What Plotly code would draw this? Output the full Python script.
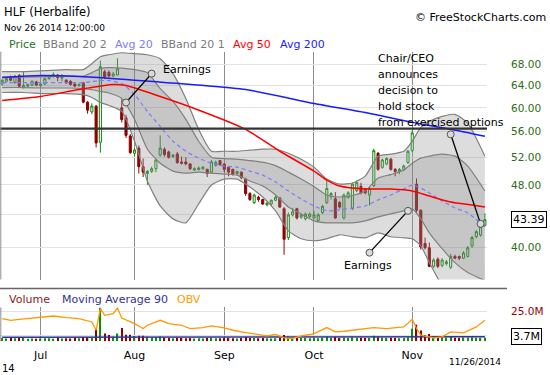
import numpy as np
import pandas as pd
import plotly.graph_objects as go

# ---------------- data ----------------
HOLIDAYS = ("2014-07-04", "2014-09-01")
dates = [d.strftime("%Y-%m-%d") for d in pd.bdate_range("2014-06-18", "2014-11-26")
         if d.strftime("%Y-%m-%d") not in HOLIDAYS]

opens = [64.3, 64.8, 65.6, 64.6, 65.9, 63.6, 63.9, 64.1, 64.7, 64.0,
         64.3, 65.3, 65.7, 66.0, 65.4, 65.0, 64.8, 64.3, 64.0, 64.5,
         61.0, 59.3, 60.3, 54.3, 66.6, 66.5, 65.8, 66.0, 60.0, 58.3,
         55.3, 52.6, 53.4, 50.6, 49.6, 49.9, 50.3, 52.3, 53.2, 52.8,
         52.1, 52.5, 51.3, 51.3, 51.0, 50.1, 50.2, 50.3, 50.2, 49.8,
         50.8, 51.5, 51.0, 50.5, 50.2, 49.6, 49.8, 48.8, 46.8, 45.6,
         46.3, 46.0, 45.3, 45.4, 45.9, 46.2, 44.8, 41.2, 44.0, 44.8,
         43.7, 43.5, 43.8, 43.6, 43.3, 44.3, 45.6, 46.4, 46.1, 45.6,
         43.6, 46.3, 44.8, 47.2, 47.8, 47.4, 46.6, 47.9, 52.6, 50.5,
         51.0, 51.7, 50.2, 49.9, 50.2, 51.2, 53.0, 48.1, 44.6, 40.5,
         40.0, 37.9, 38.7, 38.0, 38.2, 37.8, 39.0, 39.0, 38.8, 39.0,
         40.2, 41.3, 41.5, 42.7]
highs = [65.2, 65.6, 65.9, 66.0, 66.2, 66.7, 64.4, 65.0, 64.9, 64.6,
         65.5, 66.0, 66.5, 66.2, 66.2, 65.2, 65.0, 64.5, 64.4, 64.7,
         61.2, 60.8, 60.5, 68.8, 67.0, 66.9, 66.6, 69.3, 61.5, 58.8,
         55.6, 53.4, 53.8, 51.8, 50.1, 50.6, 51.7, 55.4, 53.5, 53.0,
         52.5, 52.8, 52.1, 52.0, 51.1, 50.5, 50.6, 50.7, 50.3, 51.6,
         51.5, 51.6, 51.1, 50.7, 50.3, 50.0, 49.9, 49.0, 47.0, 46.8,
         46.5, 46.1, 45.7, 46.0, 46.5, 46.3, 45.0, 44.3, 44.9, 44.9,
         44.2, 44.3, 44.3, 44.5, 44.2, 45.3, 48.8, 47.0, 47.0, 45.8,
         46.8, 47.1, 48.3, 48.6, 48.3, 47.6, 47.7, 53.3, 52.8, 51.8,
         52.0, 51.9, 50.4, 50.4, 50.9, 53.1, 56.2, 48.9, 44.7, 41.2,
         40.6, 38.8, 38.9, 38.8, 38.6, 39.3, 39.2, 39.1, 39.6, 40.2,
         41.4, 42.1, 42.6, 44.2]
lows = [64.0, 64.6, 64.8, 64.3, 63.7, 63.5, 63.7, 63.9, 63.9, 63.8,
        64.1, 65.1, 65.5, 64.8, 64.8, 64.3, 64.0, 63.7, 63.8, 60.8,
        59.0, 58.9, 53.5, 52.7, 65.2, 65.5, 65.6, 65.9, 57.5, 55.0,
        52.5, 52.2, 49.6, 49.1, 48.0, 49.7, 49.8, 52.1, 52.1, 51.8,
        51.9, 51.0, 50.9, 50.8, 50.1, 50.0, 50.0, 50.1, 49.1, 49.6,
        50.6, 50.7, 49.8, 49.2, 49.3, 49.4, 48.8, 46.5, 45.8, 45.4,
        45.7, 45.3, 45.1, 45.2, 45.8, 44.9, 39.2, 40.9, 43.8, 43.4,
        43.5, 43.3, 43.6, 43.5, 43.1, 44.1, 45.4, 46.0, 43.5, 44.8,
        43.4, 46.1, 44.6, 47.0, 46.7, 46.7, 45.2, 47.7, 50.0, 50.3,
        50.8, 50.0, 49.2, 49.5, 50.0, 51.0, 52.8, 44.3, 39.8, 39.8,
        37.8, 37.7, 37.7, 37.8, 38.0, 37.6, 38.7, 38.6, 38.7, 38.9,
        40.0, 41.1, 41.3, 42.5]
closes = [65.0, 65.3, 65.0, 65.8, 63.9, 64.0, 64.2, 64.8, 64.1, 64.3,
          65.3, 65.8, 66.1, 65.5, 65.6, 64.5, 64.2, 63.9, 64.2, 61.0,
          59.6, 60.3, 54.2, 67.6, 65.6, 65.8, 66.2, 67.2, 58.0, 55.4,
          52.7, 53.1, 50.6, 49.8, 49.9, 50.3, 51.6, 53.4, 52.4, 52.0,
          52.3, 51.2, 51.1, 51.0, 50.3, 50.3, 50.4, 50.5, 49.6, 51.3,
          51.2, 50.9, 50.2, 49.8, 49.5, 49.9, 49.0, 46.8, 46.0, 46.6,
          46.0, 45.4, 45.5, 45.9, 46.3, 45.0, 41.0, 44.0, 44.4, 43.6,
          44.0, 44.1, 44.1, 44.0, 44.0, 45.1, 47.5, 46.8, 43.6, 45.0,
          46.6, 46.9, 48.1, 48.3, 46.9, 46.9, 47.5, 53.0, 50.2, 51.6,
          51.8, 50.2, 49.9, 50.2, 50.7, 52.9, 55.8, 44.6, 40.1, 40.0,
          37.9, 38.6, 37.9, 38.6, 38.4, 39.0, 38.8, 38.8, 39.4, 40.0,
          41.2, 41.9, 42.5, 43.39]
volumes_m = [2.6, 2.2, 2.8, 2.4, 3.1, 2.9, 2.1, 2.3, 2.0, 2.2, 2.5, 2.4, 2.1, 2.6, 2.3, 2.4, 2.2, 2.8, 2.5,
             3.6, 3.2, 2.9,
             10.8, 28.0, 6.4, 5.2, 3.8, 6.4, 11.0, 5.3, 5.3, 4.4, 4.6, 4.6, 3.8, 3.0, 3.2, 4.0,
             2.9, 2.6, 2.4, 2.8, 2.7, 2.5, 2.6, 2.3, 2.4, 2.2, 2.6, 2.8, 2.5, 2.4, 2.7, 2.6, 2.5, 2.3,
             2.6, 3.4, 2.9, 2.7, 2.5, 2.6, 2.4, 2.3, 2.5, 2.9,
             5.2, 4.0, 3.0, 2.8, 2.6, 2.7, 2.5, 2.6, 2.4, 2.8, 3.8, 2.9, 3.4, 2.6, 3.0, 2.7, 3.3, 2.9,
             2.8, 2.6, 2.7, 4.5, 3.3, 2.8, 2.7, 2.9, 2.6, 2.5, 2.7, 3.2,
             10.3, 13.7, 8.9, 5.2, 6.0, 4.0, 3.5, 3.2, 2.9, 3.4, 2.8, 2.7, 3.0, 3.1, 3.3, 2.9, 2.8, 3.0]

# Bollinger bands / 20-day average, read at sample days
band_idx = [0, 5, 10, 15, 19, 21, 23, 25, 28, 31, 34, 37, 40, 43, 46, 49, 52, 55, 58, 61,
            64, 67, 70, 73, 76, 79, 82, 85, 88, 91, 94, 96, 98, 100, 103, 106, 109, 113]
bb2_upper = [66.64, 66.64, 66.83, 67.03, 67.03, 68.20, 69.59, 69.99, 70.39, 70.19, 69.99, 69.19,
             66.26, 61.65, 56.38, 52.91, 52.91, 52.91, 53.07, 53.22, 53.22, 52.61, 51.71, 50.53,
             48.81, 48.11, 48.25, 49.23, 52.16, 52.46, 52.91, 54.46, 56.70, 57.69, 58.53, 58.87,
             57.36, 52.16]
bb2_lower = [62.73, 62.73, 62.54, 62.54, 62.36, 61.83, 60.94, 60.42, 59.38, 54.46, 48.53, 45.15,
             43.49, 42.99, 45.41, 47.97, 48.81, 48.81, 47.70, 46.34, 44.51, 42.01, 41.05, 40.82,
             41.05, 41.53, 41.29, 41.17, 41.77, 41.29, 41.17, 41.05, 40.23, 38.31, 35.85, 34.53,
             34.33, 34.63]
bb1_upper = [65.60, 65.60, 65.69, 65.79, 65.79, 66.45, 67.22, 67.41, 67.32, 67.03, 66.45, 63.45,
             61.12, 58.03, 54.46, 52.01, 51.79, 51.71, 51.49, 51.26, 50.75, 49.80, 48.81, 47.76,
             46.61, 46.34, 46.54, 47.15, 48.95, 49.45, 50.09, 51.11, 51.86, 52.16, 52.46, 52.16,
             50.67, 47.15]
bb1_lower = [63.64, 63.64, 63.55, 63.55, 63.45, 63.27, 62.91, 62.64, 61.65, 58.03, 53.22, 51.11,
             49.95, 49.66, 49.80, 49.66, 49.52, 49.37, 48.53, 47.83, 46.61, 45.02, 44.12, 43.24,
             42.99, 42.99, 42.99, 43.24, 43.74, 44.12, 44.51, 44.76, 43.49, 41.77, 39.89, 38.31,
             37.22, 36.37]
avg20 = [64.56, 64.56, 64.56, 64.56, 64.56, 64.75, 64.93, 64.93, 64.37, 62.36, 59.38, 56.87,
         54.46, 52.91, 51.86, 51.11, 50.67, 50.53, 49.95, 49.37, 48.39, 47.15, 46.07, 45.15,
         44.51, 44.63, 44.89, 45.15, 45.94, 46.61, 47.42, 47.97, 47.56, 46.88, 45.81, 44.89,
         44.25, 42.50]
avg50_idx = [0, 9, 18, 26, 29, 37, 45, 57, 65, 73, 76, 79, 85, 91, 96, 100, 105, 110, 113]
avg50 = [61.29, 62.01, 63.27, 64.19, 64.00, 62.01, 59.90, 56.38, 52.91, 49.95, 48.67, 47.83,
         47.42, 47.42, 47.15, 46.47, 45.68, 45.28, 45.02]
avg200_idx = [0, 9, 18, 29, 57, 73, 85, 96, 105, 113]
avg200 = [65.50, 65.88, 65.69, 65.12, 63.27, 60.77, 59.21, 57.53, 56.38, 55.25]

# volume panel extras
ma90_idx = [0, 30, 60, 90, 113]
ma90_m = [3.3, 3.5, 3.6, 3.6, 3.7]
obv_idx = [0, 2, 4, 6, 9, 12, 15, 18, 21, 22, 23, 24, 26, 27, 28, 30, 31, 33, 34, 37, 39, 42, 44,
           47, 49, 52, 54, 57, 60, 62, 64, 66, 68, 70, 72, 73, 76, 78, 80, 82, 84, 87, 90, 92,
           94, 96, 97, 98, 100, 101, 103, 105, 108, 110, 111, 113]
obv = [22.7, 21.0, 22.0, 22.7, 24.3, 25.3, 23.7, 22.7, 19.3, 11.0, 32.7, 26.0, 27.7, 33.3, 23.3,
       19.3, 17.7, 12.7, 16.0, 21.0, 17.7, 16.0, 12.7, 13.7, 15.3, 13.3, 11.0, 8.7, 6.7, 5.3,
       6.7, 3.3, 2.7, 5.3, 6.7, 7.7, 13.7, 9.3, 10.0, 11.0, 11.7, 13.7, 12.7, 13.3, 14.3, 22.0,
       12.7, 6.0, 4.3, 3.3, 4.3, 9.3, 8.3, 12.7, 14.3, 21.0]

hold_level = 56.5
last_close = 43.39
ma90_last = 3.7

# annotation connector end points (day index, price)
earn1_idx, earn1_px = [29, 35], [60.94, 66.26]
earn2_idx, earn2_px = [86, 95], [39.43, 44.51]
ceo_idx, ceo_px = [105, 112], [55.57, 42.87]

month_ticks = ["2014-07-01", "2014-08-01", "2014-09-02", "2014-10-01", "2014-11-03"]
month_labels = ["Jul", "Aug", "Sep", "Oct", "Nov"]
price_ticks = [40, 44, 48, 52, 56, 60, 64, 68]
price_ticktext = ["40.00", "", "48.00", "52.00", "56.00", "60.00", "64.00", "68.00"]

assert len(dates) == 114
for arr in (opens, highs, lows, closes, volumes_m):
    assert len(arr) == 114

# ---------------- styling / layout ----------------
W, H = 550, 375
FONT = "DejaVu Sans"
GREEN = "#118a11"
RED = "#8b0000"
X_DOM = [0, 487 / W]
Y_DOM = [1 - 279 / H, 1 - 50 / H]
V_DOM = [1 - 341 / H, 1 - 307 / H]
Y_RANGE = [np.log10(36.48), np.log10(70.60)]


def sx(idx):
    return [dates[i] for i in idx]


fig = go.Figure()
band_line = dict(color="#808080", width=1.2, shape="spline", smoothing=0.6)
fig.add_trace(go.Scatter(x=sx(band_idx), y=bb2_upper, mode="lines", line=band_line, hoverinfo="skip"))
fig.add_trace(go.Scatter(x=sx(band_idx), y=bb2_lower, mode="lines", line=band_line, hoverinfo="skip",
                         fill="tonexty", fillcolor="rgba(150,150,150,0.32)"))
fig.add_trace(go.Scatter(x=sx(band_idx), y=bb1_upper, mode="lines", line=band_line, hoverinfo="skip"))
fig.add_trace(go.Scatter(x=sx(band_idx), y=bb1_lower, mode="lines", line=band_line, hoverinfo="skip",
                         fill="tonexty", fillcolor="rgba(110,110,110,0.2)"))
fig.add_trace(go.Scatter(x=sx(band_idx), y=avg20, mode="lines",
                         line=dict(color="#7b7bff", width=1.2, dash="4px,3px", shape="spline", smoothing=0.6)))
fig.add_trace(go.Scatter(x=sx(avg50_idx), y=avg50, mode="lines",
                         line=dict(color="#ff0000", width=1.5, shape="spline", smoothing=0.6)))
fig.add_trace(go.Scatter(x=sx(avg200_idx), y=avg200, mode="lines",
                         line=dict(color="#1a1aff", width=1.5, shape="spline", smoothing=0.6)))

fig.add_trace(go.Candlestick(
    x=dates, open=opens, high=highs, low=lows, close=closes, whiskerwidth=0,
    increasing=dict(line=dict(color=GREEN, width=1), fillcolor="white"),
    decreasing=dict(line=dict(color=RED, width=1), fillcolor=RED),
    hoverinfo="skip"))

for ix, px in ((earn1_idx, earn1_px), (earn2_idx, earn2_px), (ceo_idx, ceo_px)):
    fig.add_trace(go.Scatter(x=sx(ix), y=px, mode="lines+markers",
                             line=dict(color="#000000", width=1.3),
                             marker=dict(size=7, color="#d9d9d9", line=dict(color="#555555", width=1))))

# volume panel
vol_colors = [GREEN if c >= o else RED for o, c in zip(opens, closes)]
fig.add_trace(go.Bar(x=dates, y=volumes_m, marker=dict(color=vol_colors, line=dict(width=0)),
                     width=0.3, xaxis="x2", yaxis="y2"))
fig.add_trace(go.Scatter(x=sx(ma90_idx), y=ma90_m, mode="lines", line=dict(color="#333399", width=1.6),
                         xaxis="x2", yaxis="y2"))
fig.add_trace(go.Scatter(x=sx(obv_idx), y=obv, mode="lines", line=dict(color="#ff9900", width=1.3),
                         xaxis="x2", yaxis="y3"))

fig.update_traces(showlegend=False)

xcommon = dict(type="category", categoryorder="array", categoryarray=dates, range=[-0.5, 113.5],
               domain=X_DOM, tickvals=month_ticks, showgrid=True, gridcolor="#8c8c8c", gridwidth=1,
               zeroline=False, showline=False, fixedrange=True)

fig.update_layout(
    width=W, height=H, autosize=False, margin=dict(l=0, r=0, t=0, b=0),
    paper_bgcolor="white", plot_bgcolor="white", font=dict(family=FONT, size=11, color="#000"),
    showlegend=False, barmode="overlay",
    xaxis=dict(**xcommon, anchor="y", showticklabels=False, ticks="", rangeslider=dict(visible=False)),
    xaxis2=dict(**xcommon, anchor="y2", ticktext=month_labels, showticklabels=True,
                ticks="outside", ticklen=4, tickcolor="rgba(0,0,0,0)",
                tickfont=dict(family=FONT, size=11, color="#000")),
    yaxis=dict(domain=Y_DOM, type="log", range=Y_RANGE, side="right", anchor="x",
               tickvals=price_ticks, ticktext=price_ticktext, ticks="", ticklabelstandoff=23,
               tickfont=dict(family=FONT, size=10.5, color="#2e6b10"),
               showgrid=True, gridcolor="#e2e2e2", zeroline=False, showline=False),
    yaxis2=dict(domain=V_DOM, range=[0, 28.3], side="right", anchor="x2",
                tickvals=[5, 25], ticktext=["", "25.0M"], ticks="", ticklabelstandoff=23,
                tickfont=dict(family=FONT, size=10.5, color="#990000"),
                showgrid=True, gridcolor="#e2e2e2", zeroline=False, showline=False),
    yaxis3=dict(overlaying="y2", range=[0, 34], visible=False, anchor="x2"),
)

# horizontal level line and frame lines
fig.add_shape(type="line", xref="x domain", x0=0, x1=1, yref="y", y0=hold_level, y1=hold_level,
              line=dict(color="#333333", width=2.2), layer="above")
fig.add_shape(type="line", xref="paper", yref="paper", x0=0.0015, x1=0.0015, y0=Y_DOM[0], y1=Y_DOM[1],
              line=dict(color="#8c8c8c", width=1))
fig.add_shape(type="line", xref="paper", yref="paper", x0=0.0015, x1=0.0015, y0=V_DOM[0], y1=V_DOM[1],
              line=dict(color="#8c8c8c", width=1))
fig.add_shape(type="line", xref="paper", yref="paper", x0=0, x1=507 / W, y0=1 - 288 / H, y1=1 - 288 / H,
              line=dict(color="#666666", width=1.5))


def txt(x, y, s, color="#000", size=11, anchor="left"):
    fig.add_annotation(xref="paper", yref="paper", x=x / W, y=1 - y / H, text=s, showarrow=False,
                       xanchor=anchor, yanchor="middle", font=dict(family=FONT, size=size, color=color))


txt(2, 10, "HLF (Herbalife)", size=11.5)
txt(2, 26, "Nov 26 2014 12:00:00", size=9)
txt(548, 16, "© FreeStockCharts.com", size=11, anchor="right")

legend_items = [(7, "Price", "#227722"), (41, "BBand 20 2", "#7a7a7a"), (113, "Avg 20", "#7b7bff"),
                (159, "BBand 20 1", "#7a7a7a"), (231, "Avg 50", "#ff0000"), (278, "Avg 200", "#1a1aff")]
for x, s, c in legend_items:
    txt(x, 43, s, c)

vol_legend = [(7, "Volume", "#8b1a1a"), (60, "Moving Average 90", "#33338b"), (175, "OBV", "#ff9900")]
for x, s, c in vol_legend:
    txt(x, 299, s, c)

txt(161, 68, "Earnings")
txt(342, 265, "Earnings")
for k, line in enumerate(["Chair/CEO", "announces", "decision to", "hold stock", "from exercised options"]):
    txt(376, 57 + 16 * k, line)

txt(0, 368, "14", size=10)
txt(447, 362, "11/26/2014", size=9)

fig.add_annotation(xref="paper", yref="y", x=511 / W, y=np.log10(last_close), text=f"{last_close:.2f}",
                   showarrow=False, xanchor="left", yanchor="middle", bgcolor="white",
                   bordercolor="#000", borderwidth=1, borderpad=1, font=dict(family=FONT, size=11, color="#000"))
fig.add_annotation(xref="paper", yref="y2", x=511 / W, y=ma90_last, text=f"{ma90_last:.1f}M",
                   showarrow=False, xanchor="left", yanchor="middle", bgcolor="white",
                   bordercolor="#000", borderwidth=1, borderpad=1, font=dict(family=FONT, size=11, color="#000"))

fig.write_html("out.html")
